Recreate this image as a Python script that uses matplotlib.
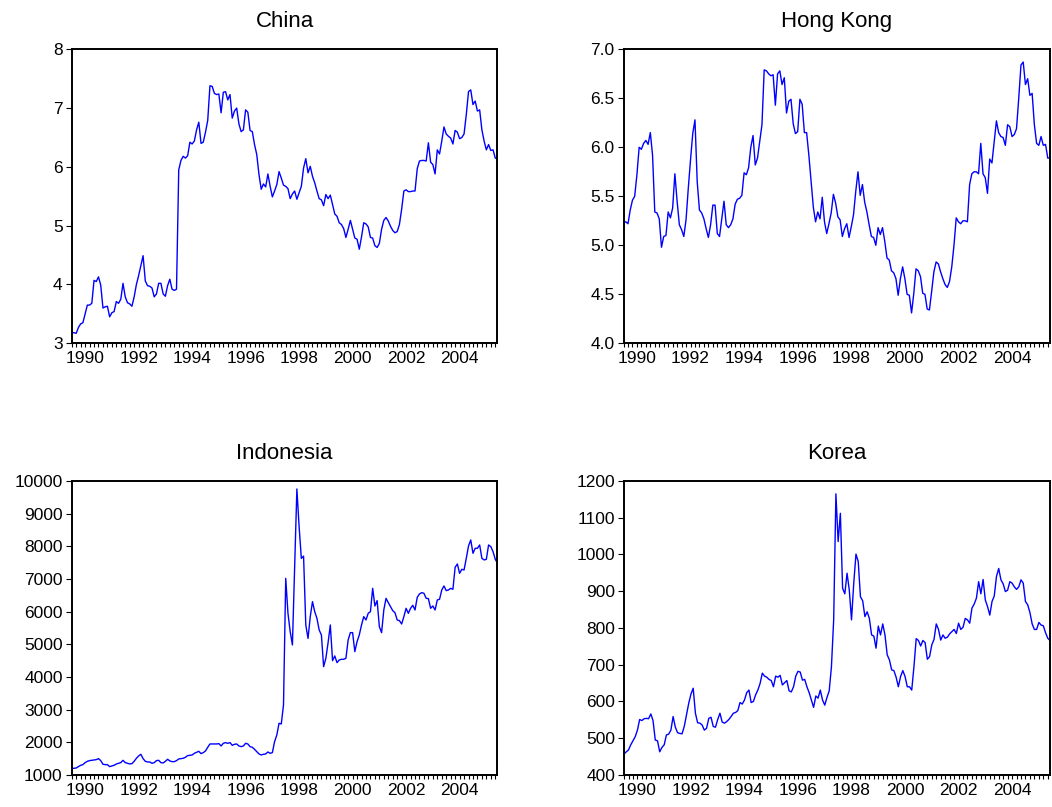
import numpy as np
import matplotlib
matplotlib.use("Agg")
from matplotlib import pyplot as plt
from matplotlib.ticker import MultipleLocator, FormatStrFormatter

plt.rcParams['font.family'] = ['Liberation Sans', 'DejaVu Sans']

# monthly observations, 1990M01 - 2005M12
start_year = 1990

china = [3.18, 3.18, 3.17, 3.27, 3.33, 3.35, 3.50, 3.65, 3.65, 3.68, 4.07, 4.05,
         4.13, 3.99, 3.60, 3.62, 3.63, 3.45, 3.52, 3.54, 3.71, 3.68, 3.75, 4.02,
         3.79, 3.69, 3.67, 3.63, 3.79, 4.00, 4.15, 4.32, 4.49, 4.06, 3.98, 3.97,
         3.94, 3.79, 3.84, 4.02, 4.02, 3.84, 3.80, 3.98, 4.09, 3.92, 3.90, 3.92,
         5.95, 6.11, 6.18, 6.15, 6.19, 6.42, 6.39, 6.44, 6.63, 6.76, 6.40, 6.42,
         6.59, 6.79, 7.38, 7.37, 7.25, 7.23, 7.24, 6.92, 7.27, 7.28, 7.14, 7.23,
         6.83, 6.95, 7.00, 6.73, 6.60, 6.63, 6.97, 6.93, 6.62, 6.60, 6.38, 6.21,
         5.87, 5.62, 5.71, 5.66, 5.88, 5.67, 5.49, 5.59, 5.70, 5.92, 5.81, 5.69,
         5.67, 5.63, 5.46, 5.54, 5.59, 5.45, 5.56, 5.67, 5.98, 6.14, 5.90, 6.01,
         5.84, 5.73, 5.59, 5.46, 5.44, 5.34, 5.53, 5.46, 5.52, 5.36, 5.20, 5.16,
         5.05, 5.02, 4.95, 4.80, 4.94, 5.09, 4.94, 4.79, 4.77, 4.60, 4.81, 5.05,
         5.03, 4.98, 4.80, 4.79, 4.66, 4.63, 4.70, 4.94, 5.09, 5.14, 5.08, 4.99,
         4.92, 4.88, 4.90, 5.02, 5.28, 5.59, 5.61, 5.58, 5.58, 5.59, 5.59, 5.97,
         6.10, 6.11, 6.11, 6.10, 6.41, 6.08, 6.04, 5.88, 6.29, 6.22, 6.44, 6.68,
         6.56, 6.52, 6.49, 6.39, 6.62, 6.59, 6.48, 6.50, 6.56, 6.89, 7.28, 7.31,
         7.06, 7.12, 6.95, 6.97, 6.63, 6.44, 6.29, 6.38, 6.28, 6.29, 6.15, 6.14]

hong_kong = [5.23, 5.24, 5.22, 5.36, 5.46, 5.50, 5.72, 6.00, 5.98, 6.04, 6.07, 6.03,
             6.15, 5.92, 5.34, 5.33, 5.27, 4.98, 5.09, 5.10, 5.34, 5.28, 5.38, 5.73,
             5.45, 5.21, 5.16, 5.09, 5.26, 5.58, 5.87, 6.14, 6.28, 5.65, 5.36, 5.33,
             5.27, 5.17, 5.08, 5.21, 5.41, 5.41, 5.12, 5.09, 5.27, 5.45, 5.21, 5.18,
             5.21, 5.27, 5.42, 5.47, 5.48, 5.51, 5.74, 5.72, 5.79, 6.00, 6.12, 5.82,
             5.89, 6.06, 6.23, 6.79, 6.78, 6.75, 6.73, 6.74, 6.43, 6.75, 6.78, 6.64,
             6.71, 6.35, 6.47, 6.49, 6.24, 6.14, 6.16, 6.49, 6.44, 6.15, 6.15, 5.92,
             5.65, 5.39, 5.24, 5.34, 5.27, 5.49, 5.24, 5.12, 5.22, 5.33, 5.52, 5.43,
             5.29, 5.26, 5.09, 5.17, 5.22, 5.08, 5.19, 5.31, 5.55, 5.75, 5.51, 5.62,
             5.44, 5.34, 5.21, 5.09, 5.08, 5.00, 5.18, 5.11, 5.18, 5.04, 4.87, 4.85,
             4.74, 4.72, 4.66, 4.49, 4.66, 4.78, 4.66, 4.50, 4.49, 4.31, 4.51, 4.76,
             4.74, 4.68, 4.51, 4.50, 4.35, 4.34, 4.53, 4.73, 4.83, 4.81, 4.73, 4.66,
             4.60, 4.57, 4.63, 4.78, 5.00, 5.28, 5.24, 5.22, 5.25, 5.25, 5.24, 5.62,
             5.73, 5.75, 5.75, 5.73, 6.04, 5.73, 5.69, 5.53, 5.88, 5.84, 6.06, 6.27,
             6.15, 6.11, 6.10, 6.02, 6.23, 6.21, 6.11, 6.13, 6.19, 6.50, 6.84, 6.87,
             6.64, 6.70, 6.53, 6.55, 6.23, 6.04, 6.02, 6.11, 6.02, 6.03, 5.89, 5.89]

indonesia = [1204, 1204, 1214, 1255, 1296, 1316, 1378, 1418, 1439, 1449, 1459, 1469,
             1500, 1439, 1327, 1316, 1316, 1255, 1276, 1296, 1337, 1357, 1378, 1449,
             1378, 1357, 1337, 1347, 1418, 1510, 1582, 1633, 1500, 1418, 1398, 1398,
             1357, 1378, 1439, 1449, 1378, 1367, 1418, 1480, 1429, 1408, 1408, 1439,
             1490, 1500, 1510, 1541, 1592, 1602, 1612, 1663, 1694, 1724, 1653, 1684,
             1735, 1847, 1949, 1949, 1949, 1949, 1959, 1888, 1969, 1990, 1969, 1990,
             1908, 1939, 1949, 1888, 1867, 1888, 1969, 1949, 1867, 1847, 1786, 1714,
             1643, 1612, 1633, 1643, 1704, 1663, 1684, 2020, 2224, 2582, 2561, 3143,
             7020, 5949, 5388, 4980, 7400, 9755, 8600, 7630, 7700, 5590, 5180, 5847,
             6306, 6000, 5796, 5439, 5286, 4316, 4571, 5051, 5592, 4500, 4643, 4439,
             4520, 4541, 4541, 4571, 5133, 5357, 5357, 4776, 5082, 5286, 5592, 5847,
             5745, 5949, 6000, 6714, 6173, 6337, 5541, 5357, 6051, 6408, 6276, 6153,
             6031, 5969, 5745, 5724, 5622, 5847, 6102, 5949, 6102, 6194, 6051, 6439,
             6541, 6582, 6561, 6408, 6398, 6102, 6173, 6051, 6357, 6378, 6663, 6786,
             6643, 6663, 6714, 6684, 7357, 7459, 7173, 7296, 7276, 7633, 8010, 8194,
             7786, 7939, 7939, 8041, 7633, 7582, 7602, 8041, 7990, 7837, 7602, 7480]

korea = [457, 463, 468, 482, 493, 504, 522, 551, 548, 553, 554, 553,
         566, 548, 495, 493, 463, 475, 482, 509, 511, 522, 559, 530,
         515, 513, 512, 532, 563, 595, 620, 636, 568, 542, 541, 536,
         522, 527, 554, 557, 532, 530, 551, 568, 544, 541, 545, 551,
         559, 568, 570, 575, 597, 593, 604, 624, 631, 597, 600, 618,
         631, 649, 677, 669, 666, 660, 657, 640, 669, 666, 671, 645,
         651, 657, 629, 626, 640, 669, 682, 680, 658, 660, 640, 624,
         604, 584, 615, 609, 631, 604, 590, 611, 629, 695, 822, 1165,
         1035, 1112, 908, 893, 949, 903, 822, 922, 1001, 981, 885, 874,
         831, 844, 826, 781, 778, 745, 805, 781, 811, 781, 727, 713,
         686, 684, 666, 640, 668, 684, 668, 640, 640, 631, 695, 771,
         766, 751, 766, 760, 715, 722, 754, 769, 811, 796, 767, 781,
         772, 775, 784, 790, 796, 785, 813, 796, 802, 826, 822, 813,
         854, 865, 881, 926, 893, 932, 876, 858, 835, 872, 887, 940,
         962, 931, 920, 899, 903, 926, 922, 912, 905, 912, 931, 922,
         872, 863, 842, 811, 796, 796, 815, 808, 806, 787, 772, 766]

year_labels = ['1990', '1992', '1994', '1996', '1998', '2000', '2002', '2004']

panels = [
    ('China', china, (3, 8), 1, '%d', [0.0682, 0.5746, 0.4047, 0.3643]),
    ('Hong Kong', hong_kong, (4, 7), 0.5, '%.1f', [0.5927, 0.5746, 0.4054, 0.3643]),
    ('Indonesia', indonesia, (1000, 10000), 1000, '%d', [0.0682, 0.0397, 0.4047, 0.3643]),
    ('Korea', korea, (400, 1200), 100, '%d', [0.5932, 0.0397, 0.4049, 0.3643]),
]

fig = plt.figure(figsize=(10.52, 8.07), dpi=100)

for title, values, ylim, ystep, yfmt, rect in panels:
    ax = fig.add_axes(rect)
    x = start_year + np.arange(len(values)) / 12.0
    ax.plot(x, values, color='#0000ff', linewidth=1.0)

    ax.set_xlim(x[0], x[-1])
    # year labels sit in the middle of each year
    ax.set_xticks([int(y) + 0.5 for y in year_labels])
    ax.set_xticklabels(year_labels)
    ax.xaxis.set_minor_locator(MultipleLocator(1 / 6))
    ax.tick_params(axis='x', which='both', direction='out', length=2.6,
                   width=0.8, pad=3, labelsize=12.5)

    ax.set_ylim(*ylim)
    ax.yaxis.set_major_locator(MultipleLocator(ystep))
    ax.yaxis.set_major_formatter(FormatStrFormatter(yfmt))
    ax.tick_params(axis='y', direction='out', length=4.5, width=0.8, pad=2,
                   labelsize=12.5)

    for s in ax.spines.values():
        s.set_linewidth(1.4)
    ax.set_title(title, fontsize=16, pad=16)

fig.savefig('out.png', dpi=100)
